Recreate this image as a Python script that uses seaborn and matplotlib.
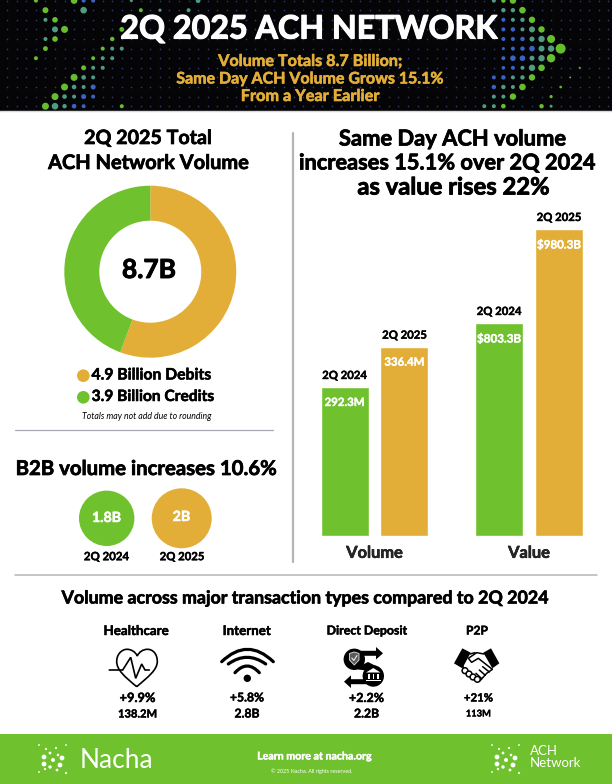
import numpy as np
import pandas as pd
import matplotlib
matplotlib.use("Agg")
import matplotlib.pyplot as plt
import matplotlib.patheffects as pe
import seaborn as sns
from matplotlib.patches import Circle, Rectangle, PathPatch, Polygon
from matplotlib.path import Path

# chart values
donut_labels = ["Debits", "Credits"]
donut_values = [4.9, 3.9]
metric = ["Volume", "Value", "Volume", "Value"]
quarter = ["2Q 2024", "2Q 2024", "2Q 2025", "2Q 2025"]
bar_text = ["292.3M", "$803.3B", "336.4M", "$980.3B"]
# the source bars are not to scale with their labels, so heights are read off the picture
bar_heights = [148.7, 212.7, 189.0, 306.7]
b2b_labels = ["1.8B", "2B"]
b2b_quarters = ["2Q 2024", "2Q 2025"]
types = ["Healthcare", "Internet", "Direct Deposit", "P2P"]
type_change = ["+9.9%", "+5.8%", "+2.2%", "+21%"]
type_volume = ["138.2M", "2.8B", "2.2B", "113M"]

GREEN = "#6fc22e"
GOLD = "#e2ae38"
W, H = 612, 784

sns.set_theme(style="white")
plt.rcParams["font.family"] = ["Lato", "DejaVu Sans"]

fig = plt.figure(figsize=(W / 100, H / 100), dpi=100, facecolor="white")
ax = fig.add_axes([0, 0, 1, 1])
ax.set_xlim(0, W)
ax.set_ylim(H, 0)
ax.axis("off")
rend = fig.canvas.get_renderer()


def put(a, x, y, s, width, color="black", weight="bold", style="normal", thick=0.035):
    # scale the font so the string spans the same width as in the picture
    t = a.text(x, y, s, ha="center", va="center", fontsize=12, color=color,
               fontweight=weight, fontstyle=style)
    size = 12 * width / t.get_window_extent(rend).width
    t.set_fontsize(size)
    if thick:
        # the original typeface is heavier than Lato Bold
        t.set_path_effects([pe.withStroke(linewidth=size * thick, foreground=color)])
    return t


def rect_axes(l, t, r, b):
    return fig.add_axes([l / W, 1 - b / H, (r - l) / W, (b - t) / H])


# header
ax.add_patch(Rectangle((0, 0), W, 110, color="#050507", zorder=0))
ax.plot([0, W], [110.5, 110.5], color="#d8d8d8", lw=1)
gx, gy = np.meshgrid(7.3 + 9.54 * np.arange(64), 0.6 + 9.6 * np.arange(12))
ax.scatter(gx.ravel(), gy.ravel(), s=1.4, color="#2d3a70", lw=0, zorder=1)

G, T, B = "#66bd2e", "#4f9c82", "#3c62c4"
# column, row, colour, radius in px
left_dots = [(3, 0, G, 2), (7, 0, G, 3.3), (8, 0, B, 2), (9, 0, B, 2), (4, 1, G, 3), (8, 1, T, 3.3),
             (4, 2, T, 2), (5, 2, G, 2.8), (5, 3, T, 3), (6, 3, G, 3.5), (4, 4, T, 2), (5, 4, G, 2.8),
             (4, 5, G, 2.4), (3, 6, G, 2), (10, 5, G, 2), (11, 5, T, 2), (12, 5, T, 2), (9, 6, G, 2),
             (10, 6, T, 2), (11, 6, T, 2), (8, 7, G, 2.5), (9, 7, T, 2), (10, 7, T, 2), (7, 8, G, 3.5),
             (8, 8, T, 2.3), (9, 8, T, 2), (6, 9, G, 3.5), (7, 9, T, 2.3), (8, 9, T, 2), (9, 9, B, 2.5),
             (5, 10, G, 3.5), (6, 10, T, 2.3), (7, 10, T, 2), (8, 10, B, 2.5), (9, 10, B, 2),
             (4, 11, G, 3.5), (5, 11, T, 3.3), (6, 11, T, 2.2), (7, 11, B, 2.3), (8, 11, B, 2),
             (12, 11, G, 2), (12, 3, G, 2.4), (11, 4, G, 2.2), (14, 1, G, 2), (16, 1, T, 1.6),
             (13, 0, T, 1.5), (19, 1, T, 2), (20, 0, T, 2.4)]
right_dots = [(51, 0, T, 2), (52, 0, G, 2.2), (53, 0, G, 3.2), (52, 1, T, 2.2), (53, 1, T, 2.2), (54, 1, G, 3.3),
              (52, 2, B, 2), (53, 2, T, 2), (54, 2, T, 2.2), (55, 2, G, 3.2), (52, 3, B, 2), (53, 3, B, 2.2),
              (54, 3, T, 2), (55, 3, T, 3), (56, 3, G, 3.2), (52, 4, B, 2), (53, 4, B, 2), (54, 4, B, 2.2),
              (55, 4, T, 2.5), (56, 4, T, 3.2), (57, 4, G, 4), (52, 5, B, 1.5), (53, 5, B, 2), (54, 5, B, 2.2),
              (55, 5, B, 2.8), (56, 5, T, 3), (57, 5, T, 3.2), (58, 5, G, 5), (52, 6, B, 2), (53, 6, B, 2.8),
              (54, 6, B, 2.8), (55, 6, T, 2.5), (56, 6, T, 3.2), (57, 6, G, 4.2), (52, 7, B, 1.8), (53, 7, B, 2),
              (54, 7, T, 2), (55, 7, T, 3.2), (56, 7, G, 3.3), (60, 7, G, 1), (51, 8, B, 2), (52, 8, B, 2.2),
              (53, 8, T, 2), (54, 8, T, 2.2), (55, 8, G, 3.2), (59, 8, G, 0.9), (51, 9, B, 2.2), (52, 9, T, 2.2),
              (53, 9, T, 2), (54, 9, G, 3.3), (58, 9, G, 1.3), (51, 10, T, 2), (52, 10, T, 2), (53, 10, G, 3.2),
              (57, 10, G, 1.6), (50, 11, T, 2), (51, 11, T, 2), (52, 11, G, 2.3), (56, 11, G, 2.2), (57, 11, T, 1.5)]
for c, r, col, rad in left_dots + right_dots:
    ax.add_patch(Circle((7.3 + 9.54 * c, 0.6 + 9.6 * r), rad, color=col, lw=0, zorder=2))

put(ax, 309, 29, "2Q 2025 ACH NETWORK", 376, "white").set_zorder(5)
put(ax, 310, 62, "Volume Totals 8.7 Billion;", 183, GOLD)
put(ax, 310, 79.5, "Same Day ACH Volume Grows 15.1%", 266, GOLD)
put(ax, 310, 97, "From a Year Earlier", 138, GOLD)

# left panel: donut
put(ax, 148, 138, "2Q 2025 Total", 127)
put(ax, 148.5, 163, "ACH Network Volume", 200)
dax = rect_axes(150.3 - 86, 271.7 - 86, 150.3 + 86, 271.7 + 86)
dax.pie(donut_values, colors=[GOLD, GREEN], startangle=90, counterclock=False, radius=1,
        wedgeprops=dict(width=35 / 86, linewidth=0))
dax.set_xlim(-1, 1)
dax.set_ylim(-1, 1)
put(ax, 149, 270, "8.7B", 54)

ax.add_patch(Circle((83.3, 375.7), 6.3, color=GOLD, lw=0))
ax.add_patch(Circle((83.3, 397.3), 6.3, color=GREEN, lw=0))
put(ax, 151.5, 375.5, "4.9 Billion Debits", 119)
put(ax, 153, 397, "3.9 Billion Credits", 122)
put(ax, 146.5, 416.5, "Totals may not add due to rounding", 129, weight="normal", style="italic", thick=0)
ax.plot([15, 273], [430.3, 430.3], color="#a9a9b4", lw=0.9)

# B2B
put(ax, 146.5, 469, "B2B volume increases 10.6%", 260)
ax.add_patch(Circle((106.7, 518.3), 27.7, color=GREEN, lw=0))
ax.add_patch(Circle((181.7, 518.3), 30, color=GOLD, lw=0))
put(ax, 106.5, 518, b2b_labels[0], 29, "white")
put(ax, 181.5, 517, b2b_labels[1], 17.5, "white")
put(ax, 106.5, 556.7, b2b_quarters[0], 45)
put(ax, 182, 556.7, b2b_quarters[1], 44.5)

# dividers
ax.plot([293, 293], [133, 562], color="#b5b5b5", lw=1.6)
ax.plot([15, 597], [575, 575], color="#b5b5b5", lw=1.1)

# right panel: bars
put(ax, 452.5, 139, "Same Day ACH volume", 226)
put(ax, 447, 163, "increases 15.1% over 2Q 2024", 295)
put(ax, 453, 187, "as value rises 22%", 191)

bars = pd.DataFrame({"metric": metric, "quarter": quarter, "height": bar_heights})
bar_l, bar_r, bar_t, bar_b = 295, 612, 200, 535.7
bax = rect_axes(bar_l, bar_t, bar_r, bar_b)
bax.patch.set_alpha(0)
sns.barplot(data=bars, x="metric", y="height", hue="quarter", order=["Volume", "Value"],
            hue_order=["2Q 2024", "2Q 2025"], palette=[GREEN, GOLD], saturation=1,
            width=0.776, gap=0.2, legend=False, ax=bax)
bax.set_xlim((bar_l - 374.5) / 154.5, (bar_r - 374.5) / 154.5)
bax.set_ylim(0, bar_b - bar_t)
bax.set_xlabel("")
bax.set_ylabel("")
bax.set_yticks([])
bax.tick_params(axis="x", length=0, pad=8)
for t in bax.get_xticklabels():
    t.set_fontsize(11.8)
    t.set_fontweight("bold")
    t.set_path_effects([pe.withStroke(linewidth=0.4, foreground="black")])
sns.despine(ax=bax, left=True, bottom=True)

i = 0
for cont, q in zip(bax.containers, ["2Q 2024", "2Q 2025"]):
    for bar in cont:
        cx = bar.get_x() + bar.get_width() / 2
        top = bar.get_height()
        put(bax, cx, top + 11.5, q, 44.5)
        put(bax, cx, top - 15.5, bar_text[i], 40 if "$" not in bar_text[i] else 44, "white")
        i += 1

# bottom row
put(ax, 306.5, 598, "Volume across major transaction types compared to 2Q 2024", 484)
head_x = [136.5, 247, 367, 477]
head_w = [65, 48, 80, 22]
val_x = [137.5, 247, 366.5, 478.5]
chg_w = [36, 34, 35, 29]
vol_w = [39, 25, 25, 25]
for k in range(4):
    put(ax, head_x[k], 631, types[k], head_w[k])
    put(ax, val_x[k], 698, type_change[k], chg_w[k])
    put(ax, val_x[k], 714, type_volume[k], vol_w[k])

# heart icon
heart = Path([(136.7, 686.7), (125, 677), (116.7, 670), (116.7, 661.5), (116.7, 654), (122, 649.3), (127, 649.3),
              (131.5, 649.3), (135.5, 652), (137.3, 656), (139, 652), (143, 649.3), (147.5, 649.3),
              (153, 649.3), (157.3, 654), (157.3, 661.5), (157.3, 670), (148, 677), (136.7, 686.7)],
             [Path.MOVETO] + [Path.CURVE4] * 18)
ax.add_patch(PathPatch(heart, fc="none", ec="black", lw=1.2))
ax.plot([109.3, 122.7, 130.7, 135.7, 141.7, 145, 149.3], [670, 670, 657.3, 678.3, 664, 670, 670],
        color="black", lw=1.2, solid_joinstyle="miter")

# wifi icon
for x0, x1, y0, ctrl in [(221.7, 273.3, 661.7, 636.9), (228.3, 265.7, 664, 650.6), (235, 259.3, 672.7, 659.3)]:
    arc = Path([(x0, y0), ((x0 + x1) / 2, ctrl), (x1, y0)], [Path.MOVETO, Path.CURVE3, Path.CURVE3])
    ax.add_patch(PathPatch(arc, fc="none", ec="black", lw=2.3, capstyle="round"))
ax.add_patch(Circle((247.3, 678.3), 3.7, color="black", lw=0))

# direct deposit icon
ax.add_patch(Circle((354.3, 659.3), 10.7, color="black", lw=0))
ax.add_patch(Circle((373.3, 676), 10.7, color="black", lw=0))
ax.add_patch(Polygon([(358, 650.8), (376, 650.8), (376, 647), (383, 653.3), (376, 659.5), (376, 655.8), (358, 655.8)],
                     color="black", lw=0))
ax.add_patch(Polygon([(369, 684.2), (351, 684.2), (351, 688), (344, 681.7), (351, 675.3), (351, 679.2), (369, 679.2)],
                     color="black", lw=0))
ax.add_patch(Polygon([(358, 667), (368, 662), (376, 666), (370, 671), (358, 669.5)], color="black", lw=0))
shield = Polygon([(349.5, 653.5), (354.3, 652), (359, 653.5), (359, 660), (354.3, 665), (349.5, 660)],
                 fc="#5a5a5a", ec="#d0d0d0", lw=0.7)
ax.add_patch(shield)
ax.plot([351.8, 353.8, 357], [658, 660.5, 655.5], color="white", lw=0.7)
ax.add_patch(Polygon([(366, 672.5), (373.3, 668), (380.5, 672.5)], color="white", lw=0))
for cx in [368.7, 373.3, 378]:
    ax.add_patch(Rectangle((cx - 0.8, 674), 1.6, 4.6, color="white", lw=0))
ax.add_patch(Rectangle((366, 679.5), 14.5, 1.7, color="white", lw=0))

# handshake icon
def hs(p):
    # points read in the zoomed crop of the icon
    return [(330 + a / 3, 640 + b / 3) for a, b in p]


ax.add_patch(Polygon(hs([(372, 70), (397, 25), (422, 38), (397, 85)]), color="black", lw=0))
ax.add_patch(Polygon(hs([(508, 70), (483, 25), (460, 38), (487, 85)]), color="black", lw=0))
for line in [[(462, 42), (440, 38), (415, 55), (425, 67), (445, 55), (487, 88)],
             [(420, 42), (435, 38)],
             [(398, 78), (405, 90)],
             [(487, 88), (470, 100), (450, 122), (440, 120)],
             [(478, 96), (458, 80)], [(466, 106), (448, 90)], [(455, 116), (438, 100)]]:
    xs, ys = zip(*hs(line))
    ax.plot(xs, ys, color="black", lw=1.1, solid_capstyle="round")
for a, b in [(405, 92), (417, 102), (429, 111), (442, 118)]:
    (x, y), = hs([(a, b)])
    ax.add_patch(Circle((x, y), 2.9, fc="white", ec="black", lw=1.1, zorder=4))

# footer
ax.add_patch(Rectangle((0, 734), W, 50, color=GREEN, lw=0))
logo = [(-14, -15, 0.9), (-7, -11, 1.1), (3, -12, 1.1), (13, -15, 0.9), (-3, -7, 1.4), (5, -5, 1.3),
        (-9, -3, 2.4), (9, -2, 2.4), (0, 0, 2.0), (-9, 4, 2.4), (7, 5, 2.4), (-3, 7, 1.7), (-14, 12, 0.9),
        (-8, 9, 1.2), (4, 10, 1.4), (13, 13, 1.1)]
for cx in [53, 506]:
    for dx, dy, r in logo:
        ax.add_patch(Circle((cx + dx, 760 + dy), r, color="white", lw=0))
put(ax, 116.5, 760, "Nacha", 73, "white", weight="normal", thick=0)
put(ax, 314.5, 756, "Learn more at nacha.org", 114, "white")
put(ax, 312, 771, "\u00a9 2025 Nacha. All rights reserved.", 82, "white", weight="normal", thick=0)
ax.text(530, 751, "ACH", color="white", fontsize=9.5, va="center", ha="left")
ax.text(530, 763, "Network", color="white", fontsize=9.5, va="center", ha="left")

fig.savefig("out.png", dpi=100)
